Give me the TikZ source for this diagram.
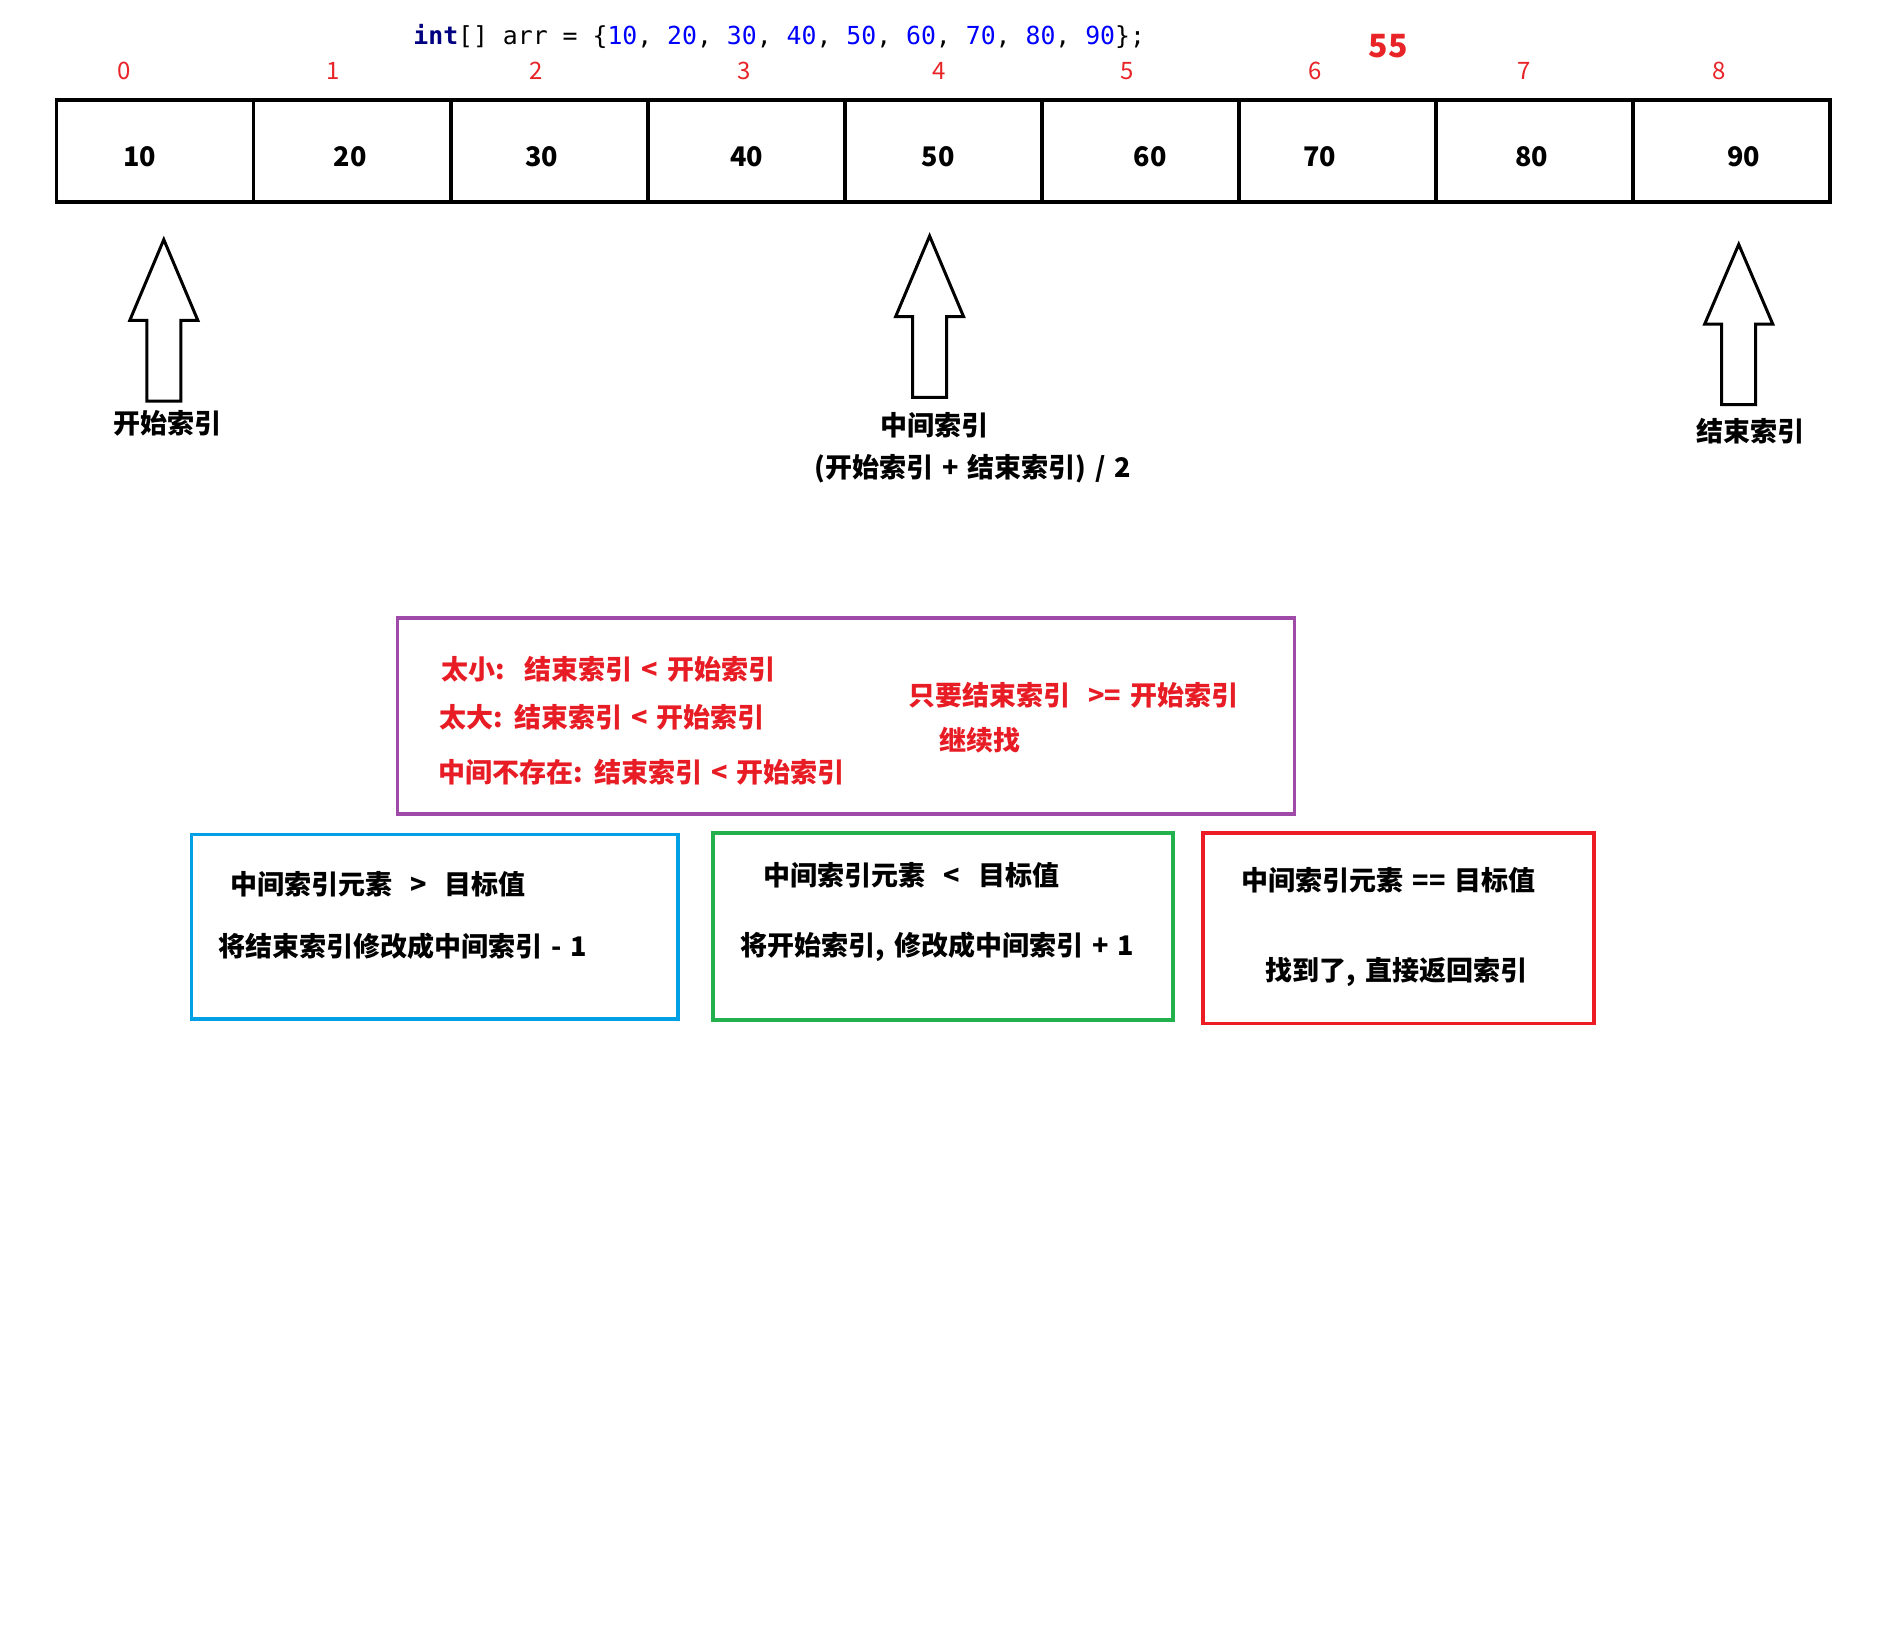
\documentclass[tikz,border=0pt]{standalone}
\usepackage{fontspec}
\setmainfont{Noto Sans CJK SC}[WordSpace=1.45]
\newfontfamily\codefont{DejaVu Sans Mono}
\definecolor{idxred}{RGB}{232,36,40}
\definecolor{txtred}{RGB}{232,28,36}
\definecolor{navy}{RGB}{0,0,128}
\definecolor{numblue}{RGB}{0,0,255}
\definecolor{boxpurple}{RGB}{160,75,170}
\definecolor{boxblue}{RGB}{0,160,228}
\definecolor{boxgreen}{RGB}{34,177,76}
\definecolor{boxred}{RGB}{237,28,36}
\tikzset{
  cellbox/.style={draw, line width=1.8pt, minimum width=98.52pt, minimum height=51pt, inner sep=0pt, outer sep=0pt},
  valtxt/.style={font=\fontsize{13.5}{16}\selectfont\bfseries, inner sep=0pt},
  idxtxt/.style={text=idxred, font=\fontsize{12}{14}\selectfont, inner sep=0pt},
  lbltxt/.style={font=\fontsize{13.5}{16}\selectfont\bfseries, inner sep=0pt},
  redtxt/.style={text=txtred, font=\fontsize{13.5}{16}\selectfont\bfseries, anchor=west, inner sep=0pt},
  blktxt/.style={font=\fontsize{13.5}{16}\selectfont\bfseries, anchor=west, inner sep=0pt},
  framebox/.style={draw, line width=1.8pt, inner sep=0pt, outer sep=0pt},
  blockarrow/.style={draw, line width=1.5pt, fill=white, line join=miter}
}
\begin{document}
\begin{tikzpicture}[x=0.5pt,y=-0.5pt]
\useasboundingbox[fill=white] (0,0) rectangle (1888,1644);

% code line
\node[anchor=west, inner sep=0pt, font=\codefont\fontsize{12.4}{14}\selectfont] (code) at (413,36)
 {\textcolor{navy}{\bfseries int}[] arr = \{\textcolor{numblue}{10}, \textcolor{numblue}{20}, \textcolor{numblue}{30}, \textcolor{numblue}{40}, \textcolor{numblue}{50}, \textcolor{numblue}{60}, \textcolor{numblue}{70}, \textcolor{numblue}{80}, \textcolor{numblue}{90}\};};
\node[text=idxred, inner sep=0pt, font=\fontsize{16}{18}\selectfont\bfseries] (mid55) at (1388,46) {55};

% indices
\foreach \i/\x in {0/124,1/333.5,2/535.8,3/744,4/939,5/1127,6/1315,7/1524,8/1719}
  \node[idxtxt] (i\i) at (\x,71) {\i};

% cells
\foreach \i in {0,...,8}
  \node[cellbox] (c\i) at ({56.6+197.05*(\i+0.5)},151) {};
\foreach \i/\x/\v in {0/139.7/10,1/350.4/20,2/541.8/30,3/746.5/40,4/938/50,5/1150/60,6/1319.7/70,7/1531.6/80,8/1743.5/90}
  \node[valtxt] (v\i) at (\x,157) {\v};

% block arrows
\draw[blockarrow] (163.8,239.6) -- (197.8,320.3) -- (180.8,320.3) -- (180.8,401) -- (146.8,401) -- (146.8,320.3) -- (129.8,320.3) -- cycle;
\draw[blockarrow] (929.6,236) -- (963.6,316.7) -- (946.6,316.7) -- (946.6,397.4) -- (912.6,397.4) -- (912.6,316.7) -- (895.6,316.7) -- cycle;
\draw[blockarrow] (1738.7,244.4) -- (1772.7,324) -- (1755.7,324) -- (1755.7,404.6) -- (1721.7,404.6) -- (1721.7,324) -- (1704.7,324) -- cycle;

\node[lbltxt] (lstart) at (167.4,423) {开始索引};
\node[lbltxt] (lmid) at (934.4,425) {中间索引};
\node[lbltxt] (lmidf) at (973,468.4) {(开始索引 + 结束索引) / 2};
\node[lbltxt] (lend) at (1750.7,431) {结束索引};

% purple box
\node[framebox, draw=boxpurple, minimum width=448.5pt, minimum height=98.15pt] (pbox) at (845.9,715.85) {};
\node[redtxt] (t1) at (441,669.5) {太小:~ 结束索引 < 开始索引};
\node[redtxt] (t2) at (439.5,717.6) {太大: 结束索引 < 开始索引};
\node[redtxt] (t3) at (438.3,771.8) {中间不存在: 结束索引 < 开始索引};
\node[redtxt] (t4) at (908,694.8) {只要结束索引~ >= 开始索引};
\node[redtxt] (t5) at (939,740.5) {继续找};

% bottom boxes
\node[framebox, draw=boxblue, minimum width=243.25pt, minimum height=92.15pt] (bbox) at (434.75,926.55) {};
\node[framebox, draw=boxgreen, minimum width=230pt, minimum height=93.35pt] (gbox) at (942.8,926.55) {};
\node[framebox, draw=boxred, minimum width=195.6pt, minimum height=95.15pt] (rbox) at (1398.6,928.35) {};

\node[blktxt] (b1) at (230,883.8) {中间索引元素~ >~ 目标值};
\node[blktxt] (b2) at (218,946.4) {将结束索引修改成中间索引 - 1};
\node[blktxt] (g1) at (763.4,875.4) {中间索引元素~ <~ 目标值};
\node[blktxt] (g2) at (740.5,946.4) {将开始索引, 修改成中间索引 + 1};
\node[blktxt] (r1) at (1241.4,880.2) {中间索引元素 == 目标值};
\node[blktxt] (r2) at (1265.5,971.7) {找到了, 直接返回索引};
\end{tikzpicture}
\end{document}
